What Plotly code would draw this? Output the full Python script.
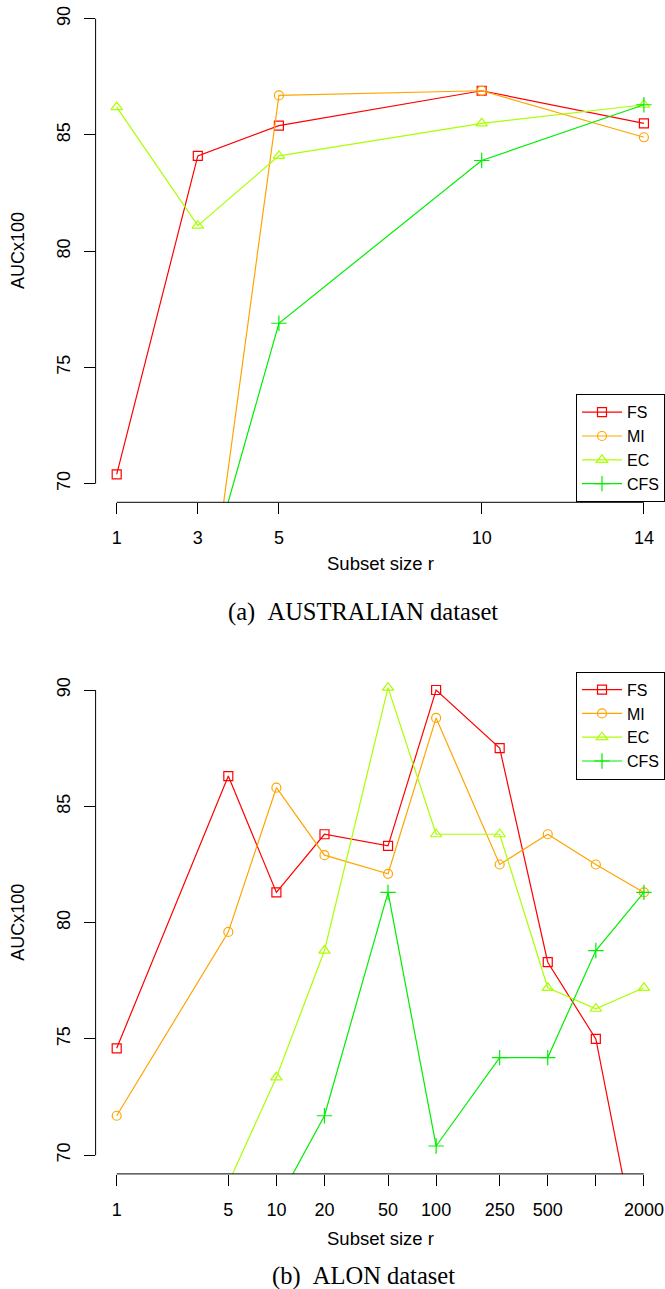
import plotly.graph_objects as go
import numpy as np

W, H = 665, 1289

# ---------------- data ----------------
series_names = ["FS", "MI", "EC", "CFS"]
series_colors = ["#FF0000", "#FFA500", "#AAFF00", "#00EE00"]
series_symbols = ["square-open", "circle-open", "triangle-up-open", "cross-thin"]
series_sizes = [9, 9, 10, 11]

# (a) AUSTRALIAN dataset
aus_r = [1, 3, 5, 10, 14]
aus_FS = [70.4, 84.1, 85.4, 86.9, 85.5]
aus_MI = [55.0, 61.0, 86.7, 86.9, 84.9]
aus_EC = [86.2, 81.1, 84.1, 85.5, 86.3]
aus_CFS = [58.0, 64.6, 76.9, 83.9, 86.3]
aus_xticks = [1, 3, 5, 10, 14]
aus_xticktext = ["1", "3", "5", "10", "14"]

# (b) ALON dataset
alon_r = [1, 5, 10, 20, 50, 100, 250, 500, 1000, 2000]
alon_FS = [74.6, 86.3, 81.3, 83.8, 83.3, 90.0, 87.5, 78.3, 75.0, 64.5]
alon_MI = [71.7, 79.6, 85.8, 82.9, 82.1, 88.8, 82.5, 83.8, 82.5, 81.3]
alon_EC = [65.0, 68.8, 73.35, 78.8, 90.1, 83.8, 83.8, 77.2, 76.3, 77.2]
alon_CFS = [60.0, 62.0, 67.9, 71.7, 81.3, 70.4, 74.2, 74.2, 78.8, 81.3]
alon_xticks = [1, 5, 10, 20, 50, 100, 250, 500, 1000, 2000]
alon_xticktext = ["1", "5", "10", "20", "50", "100", "250", "500", "", "2000"]

yticks = [70, 75, 80, 85, 90]
ylim = (70, 90)

# ---------------- layout helpers ----------------
def ext(lo, hi, f=0.04):
    d = (hi - lo) * f
    return [lo - d, hi + d]

def py(pix):
    return 1 - pix / H

def px(pix):
    return pix / W

FONT = "Liberation Sans, Arial, Helvetica, sans-serif"
SERIF = "Liberation Serif, Times New Roman, serif"

fig = go.Figure()

aus_series = [aus_FS, aus_MI, aus_EC, aus_CFS]
alon_series = [alon_FS, alon_MI, alon_EC, alon_CFS]

for i, name in enumerate(series_names):
    fig.add_trace(go.Scatter(
        x=aus_r, y=aus_series[i], name=name, mode="lines+markers",
        xaxis="x", yaxis="y", legend="legend",
        line=dict(color=series_colors[i], width=1.2),
        marker=dict(symbol=series_symbols[i], size=series_sizes[i],
                    color=series_colors[i],
                    line=dict(color=series_colors[i], width=1.2)),
    ))
for i, name in enumerate(series_names):
    fig.add_trace(go.Scatter(
        x=alon_r, y=alon_series[i], name=name, mode="lines+markers",
        xaxis="x2", yaxis="y2", legend="legend2",
        line=dict(color=series_colors[i], width=1.2),
        marker=dict(symbol=series_symbols[i], size=series_sizes[i],
                    color=series_colors[i],
                    line=dict(color=series_colors[i], width=1.2)),
    ))

x_dom = [px(95.6), 1.0]
top_dom = [py(502.3), py(0.1)]
bot_dom = [py(1173.9), py(671.4)]

yr = ext(*ylim)
tick_font = dict(family=FONT, size=18, color="black")

common_x = dict(showgrid=False, zeroline=False, showline=False,
                ticks="outside", ticklen=11, tickwidth=1, tickcolor="black",
                tickfont=tick_font, ticklabelstandoff=8)
common_y = dict(showgrid=False, zeroline=False, showline=False,
                ticks="outside", ticklen=11, tickwidth=1, tickcolor="black",
                tickfont=tick_font, tickangle=-90, ticklabelstandoff=6,
                range=yr, tickvals=yticks, ticktext=[str(v) for v in yticks])

legend_common = dict(x=1.0, xanchor="right", bordercolor="black", borderwidth=1,
                     bgcolor="white", font=dict(family=FONT, size=16, color="black"),
                     tracegroupgap=0, itemwidth=40)

lx = np.log10(alon_r)
fig.update_layout(
    width=W, height=H, autosize=False,
    margin=dict(l=0, r=0, t=0, b=0),
    paper_bgcolor="white", plot_bgcolor="white",
    font=dict(family=FONT, size=18, color="black"),
    xaxis=dict(domain=x_dom, anchor="y", range=ext(min(aus_r), max(aus_r)),
               tickvals=aus_xticks, ticktext=aus_xticktext, **common_x),
    yaxis=dict(domain=top_dom, anchor="x", **common_y),
    xaxis2=dict(domain=x_dom, anchor="y2", type="log",
                range=ext(lx.min(), lx.max()),
                tickvals=alon_xticks, ticktext=alon_xticktext, **common_x),
    yaxis2=dict(domain=bot_dom, anchor="x2", **common_y),
    legend=dict(y=py(502.3), yanchor="bottom", **legend_common),
    legend2=dict(y=py(671.7), yanchor="top", **legend_common),
    showlegend=True,
)

# R-style axis lines (from first to last tick)
f = 0.04 / 1.08
for xa, ya in [("x", "y"), ("x2", "y2")]:
    fig.add_shape(type="line", xref=f"{xa} domain", yref=f"{ya} domain",
                  x0=f, x1=1 - f, y0=0, y1=0, line=dict(color="black", width=1))
    fig.add_shape(type="line", xref=f"{xa} domain", yref=f"{ya} domain",
                  x0=0, x1=0, y0=f, y1=1 - f, line=dict(color="black", width=1))

# axis titles and captions
ann = []
for (tx, ty) in [(380.5, 563), (380.5, 1238)]:
    ann.append(dict(text="Subset size r", x=px(tx), y=py(ty), xref="paper", yref="paper",
                    showarrow=False, xanchor="center", yanchor="middle",
                    font=dict(family=FONT, size=18.5, color="black")))
for ty in [251, 922.7]:
    ann.append(dict(text="AUCx100", x=px(18), y=py(ty), xref="paper", yref="paper",
                    showarrow=False, xanchor="center", yanchor="middle", textangle=-90,
                    font=dict(family=FONT, size=18, color="black")))
ann.append(dict(text="(a)\u00a0\u00a0AUSTRALIAN dataset", x=px(362.5), y=py(612),
                xref="paper", yref="paper", showarrow=False,
                xanchor="center", yanchor="middle",
                font=dict(family=SERIF, size=24.5, color="black")))
ann.append(dict(text="(b)\u00a0\u00a0ALON dataset", x=px(363), y=py(1276),
                xref="paper", yref="paper", showarrow=False,
                xanchor="center", yanchor="middle",
                font=dict(family=SERIF, size=24.5, color="black")))
fig.update_layout(annotations=ann)

fig.write_html(
    "out.html",
    config={"displayModeBar": False},
    post_script="document.body.style.margin='0';document.body.style.overflow='hidden';",
)
